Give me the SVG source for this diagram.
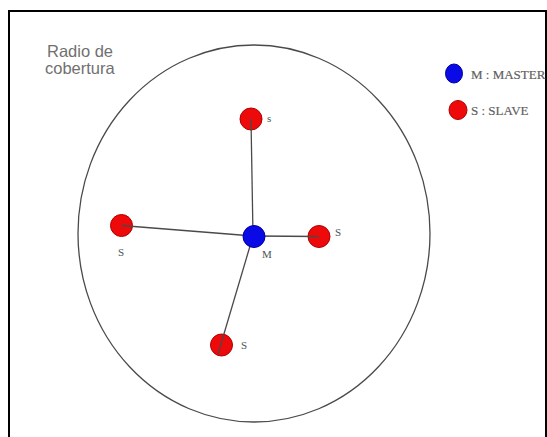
<svg xmlns="http://www.w3.org/2000/svg" width="547" height="437" viewBox="0 0 547 437">
<style>
.bg{fill:#ffffff}
.frame{fill:none;stroke:#000;stroke-width:2}
.range{fill:none;stroke:#4a4a4a;stroke-width:1.3}
.slave{fill:#ee0a0a;stroke:#b00000;stroke-width:1}
.master{fill:#0a0ae6;stroke:#0000a0;stroke-width:1}
.link{stroke:#4a4a4a;stroke-width:1.3;fill:none}
.lbl{font-family:"Liberation Serif",serif;font-size:11px;fill:#4a5555}
.leg{font-family:"Liberation Serif",serif;font-size:13px;fill:#5f5f5f;stroke:#5f5f5f;stroke-width:0.2}
.title{font-family:"Liberation Sans",Arial,sans-serif;font-size:16.5px;fill:#707070}
</style>
<rect class="bg" x="0" y="0" width="547" height="437"/>
<path class="frame" d="M9,437 V11 H546 V437"/>
<g id="coverage">
<ellipse class="range" cx="254" cy="233.5" rx="176" ry="188.5"/>
<text class="title" x="47" y="57">Radio de</text>
<text class="title" x="45" y="74">cobertura</text>
</g>
<g id="s-top"><circle class="slave" cx="251" cy="119" r="11"/><text class="lbl" x="267" y="122">s</text></g>
<g id="s-left"><circle class="slave" cx="121.5" cy="225.5" r="11"/><text class="lbl" x="118" y="256">S</text></g>
<g id="s-right"><circle class="slave" cx="319" cy="236.5" r="11"/><text class="lbl" x="335" y="236">S</text></g>
<g id="s-bottom"><circle class="slave" cx="221.5" cy="345" r="11"/><text class="lbl" x="241" y="349">S</text></g>
<g id="connectors">
<line class="link" x1="251" y1="119" x2="253" y2="236"/>
<line class="link" x1="121.5" y1="225.5" x2="253" y2="236"/>
<line class="link" x1="253" y1="236" x2="319" y2="236.5"/>
<line class="link" x1="253" y1="236" x2="218" y2="354"/>
</g>
<g id="master"><circle class="master" cx="254" cy="236.5" r="11"/><text class="lbl" x="262" y="258">M</text></g>
<g id="legend">
<ellipse class="master" cx="454" cy="73.5" rx="8.5" ry="9.5"/>
<text class="leg" x="471" y="79">M : MASTER</text>
<ellipse class="slave" cx="458" cy="110" rx="9" ry="9.5"/>
<text class="leg" x="471" y="114.5">S : SLAVE</text>
</g>
</svg>
